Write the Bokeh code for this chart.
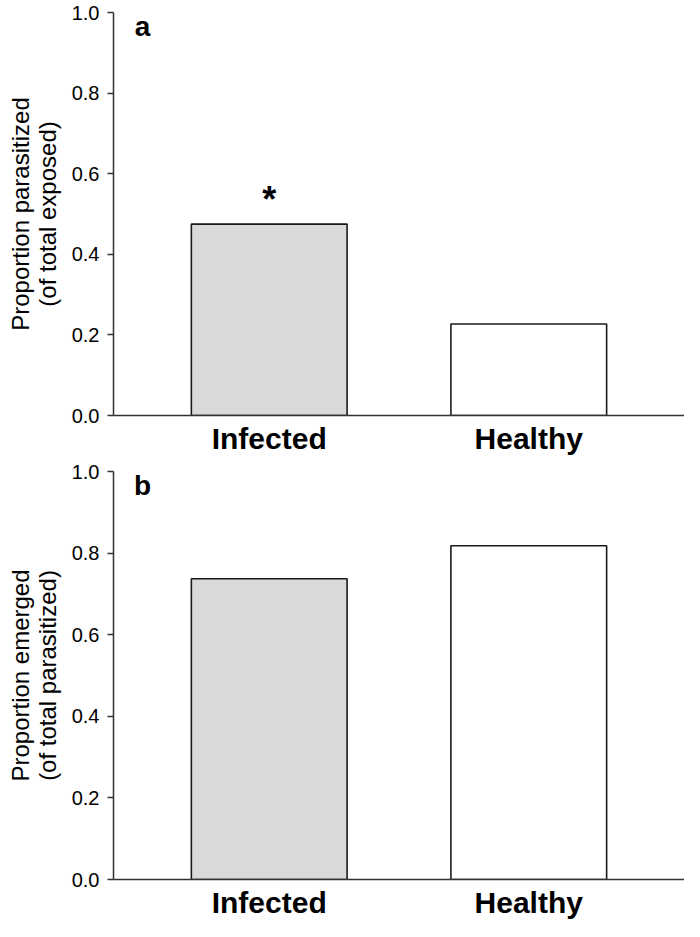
from bokeh.plotting import figure
from bokeh.layouts import column
from bokeh.models import FactorRange, FixedTicker, PrintfTickFormatter, Label, ColumnDataSource
from bokeh.embed import file_html
from bokeh.resources import INLINE

groups = ["Infected", "Healthy"]
parasitized = [0.475, 0.227]
emerged = [0.737, 0.818]
bar_colors = ["#d9d9d9", "#ffffff"]
y_ticks = [0.0, 0.2, 0.4, 0.6, 0.8, 1.0]

FONT = "Liberation Sans"


def make_panel(values, ylabel, letter, height, top, bottom, star=None):
    p = figure(
        x_range=FactorRange(factors=groups, range_padding=0.1, range_padding_units="absolute"),
        y_range=(0, 1.0),
        width=684, height=height,
        output_backend="svg", toolbar_location=None,
        min_border_left=113, min_border_right=0,
        min_border_top=top, min_border_bottom=bottom,
    )
    src = ColumnDataSource(dict(g=groups, v=values, c=bar_colors))
    p.vbar(x="g", top="v", width=0.6, source=src, fill_color="c",
           line_color="#1a1a1a", line_width=1.6)
    p.grid.visible = False
    p.outline_line_color = None

    ya = p.yaxis[0]
    ya.ticker = FixedTicker(ticks=y_ticks)
    ya.formatter = PrintfTickFormatter(format="%.1f")
    ya.minor_tick_line_color = None
    ya.major_tick_in = 0
    ya.major_tick_out = 6
    ya.major_tick_line_width = 1.5
    ya.axis_line_width = 1.5
    ya.axis_line_color = "#333333"
    ya.major_tick_line_color = "#333333"
    ya.major_label_text_font = FONT
    ya.major_label_text_font_size = "20px"
    ya.major_label_text_color = "black"
    ya.major_label_standoff = 8
    ya.axis_label = ylabel
    ya.axis_label_text_font = FONT
    ya.axis_label_text_font_size = "24px"
    ya.axis_label_text_font_style = "normal"
    ya.axis_label_text_color = "black"
    ya.axis_label_text_line_height = 1.0
    ya.axis_label_standoff = 8

    xa = p.xaxis[0]
    xa.major_tick_in = 0
    xa.major_tick_out = 0
    xa.minor_tick_line_color = None
    xa.axis_line_width = 1.5
    xa.axis_line_color = "#333333"
    xa.major_label_text_font = FONT
    xa.major_label_text_font_size = "30px"
    xa.major_label_text_font_style = "bold"
    xa.major_label_text_color = "black"
    xa.major_label_standoff = 6

    p.add_layout(Label(x=0.012, y=1.0, y_offset=2, text=letter, text_font=FONT,
                       text_font_size="28px", text_font_style="bold",
                       text_align="center", text_baseline="top", text_color="black"))
    if star is not None:
        p.add_layout(Label(x=0.5, y=values[0], y_offset=4, text=star, text_font=FONT,
                           text_font_size="36px", text_font_style="bold",
                           text_align="center", text_baseline="bottom", text_color="black"))
    return p


pa = make_panel(parasitized, "Proportion parasitized\n(of total exposed)", "a",
                height=459, top=12, bottom=44, star="*")
pb = make_panel(emerged, "Proportion emerged\n(of total parasitized)", "b",
                height=462, top=12, bottom=40)

layout = column(pa, pb, spacing=0)
open("out.html", "w").write(file_html(layout, INLINE))
